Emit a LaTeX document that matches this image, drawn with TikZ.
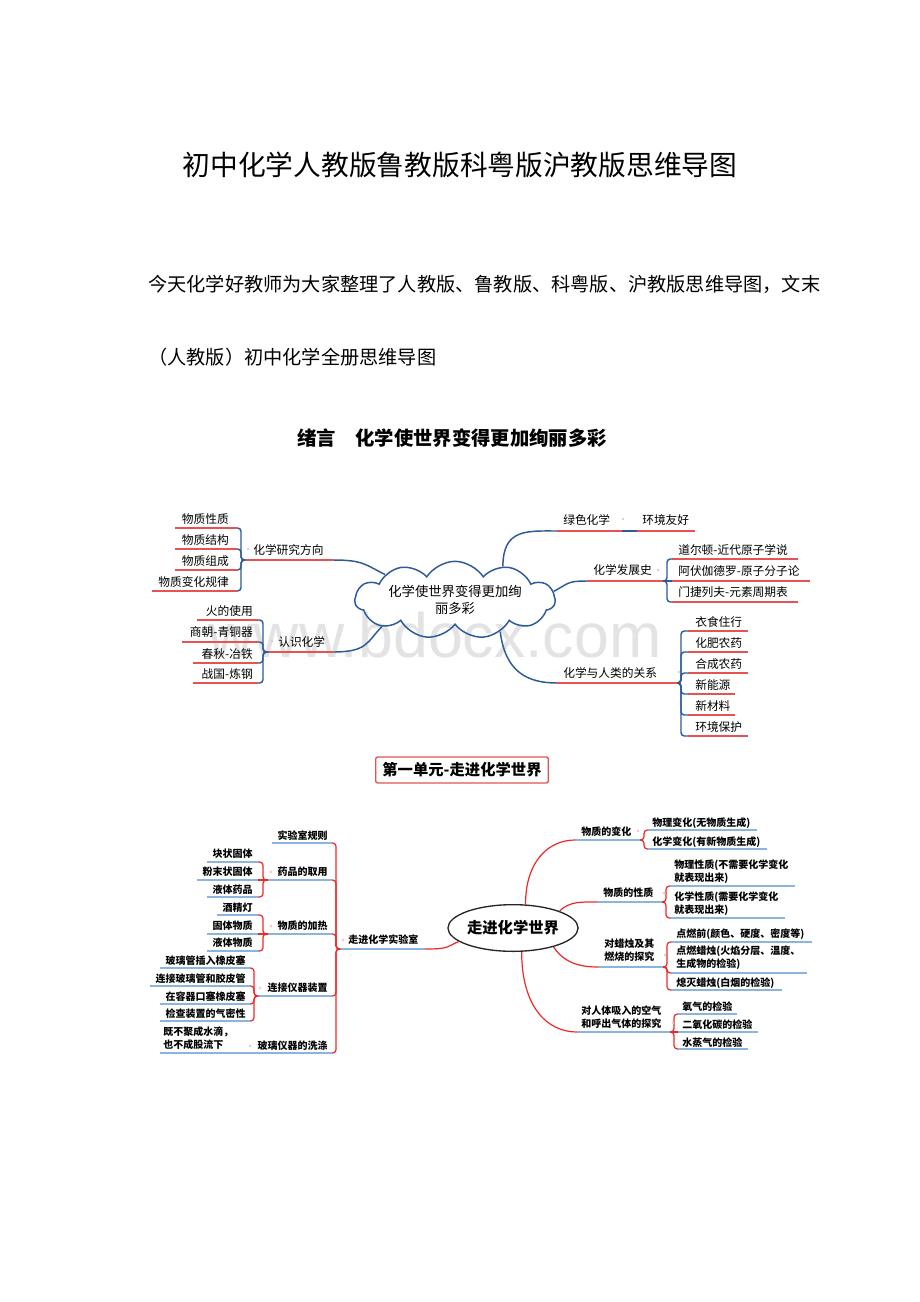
\documentclass[tikz,border=0pt]{standalone}
\usepackage{fontspec}
\setmainfont{Noto Sans CJK SC}
\newfontfamily\wmfont{Liberation Sans}
\usetikzlibrary{shapes.symbols}
\usetikzlibrary{shapes.geometric}
\definecolor{mapblue}{RGB}{46,90,152}
\definecolor{mapred}{RGB}{232,82,82}
\definecolor{linkred}{RGB}{240,40,40}
\definecolor{ulblue}{RGB}{140,180,226}
\definecolor{boxred}{RGB}{226,84,84}

\begin{document}
\begin{tikzpicture}[x=0.75pt,y=0.75pt,yscale=-1,xscale=1,
  txt/.style={inner sep=0pt,font=\fontsize{8.8}{11}\selectfont},
  sub/.style={inner sep=0pt,font=\fontsize{7.5}{9.8}\selectfont\bfseries,align=left},
  blink/.style={draw=mapblue,line width=1.1pt},
  bul/.style={draw=mapred,line width=1.1pt},
  rlink/.style={draw=linkred,line width=0.9pt},
  rul/.style={draw=ulblue,line width=1.1pt},
  bbrace/.style={blink,rounded corners=2.5pt},
  rbrace/.style={rlink,rounded corners=2.5pt},
  bdot/.style={circle,inner sep=0pt,minimum size=2.2pt,fill=gray!35},
  rdot/.style={circle,inner sep=0pt,minimum size=2.2pt,fill=red!25}
]
%set diagram to 920 x 1302
\path[fill=white] (0,0) rectangle (920,1302);
\useasboundingbox (0,0) rectangle (920,1302);

%Watermark
\draw (435,635) node[text=black!11,font=\wmfont\fontsize{47}{50}\selectfont] (wm) {www.bdocx.com};

% Text Node
\draw (460,165) node[font=\fontsize{20.8}{25}\selectfont] (title) {初中化学人教版鲁教版科粤版沪教版思维导图};
% Text Node
\draw (148,284) node[anchor=west,inner sep=0pt,font=\fontsize{14.4}{17}\selectfont] (intro) {今天化学好教师为大家整理了人教版、鲁教版、科粤版、沪教版思维导图，文末};
% Text Node
\draw (148,357) node[anchor=west,inner sep=0pt,font=\fontsize{14.4}{17}\selectfont] (intro2) {（人教版）初中化学全册思维导图};
% Text Node
\draw (452,438) node[font=\fontsize{14.5}{17}\selectfont\bfseries] (xuyan) {绪言\hspace{1em}化学使世界变得更加绚丽多彩};

%Shape: Cloud
\draw (455,600) node[cloud,draw=mapblue,line width=1.1pt,cloud puffs=11,cloud puff arc=115,cloud ignores aspect,minimum width=150pt,minimum height=58pt,inner sep=0pt,align=center,font=\fontsize{10}{13}\selectfont] (core) {化学使世界变得更加绚\\丽多彩};

%Underline ends (map 1)
\coordinate (yjl) at (245,560); \coordinate (yjr) at (333,560);
\coordinate (xz1l) at (175,528); \coordinate (xz1r) at (237,528);
\coordinate (xz2l) at (175,549); \coordinate (xz2r) at (237,549);
\coordinate (xz3l) at (175,570); \coordinate (xz3r) at (237,570);
\coordinate (xz4l) at (152,591); \coordinate (xz4r) at (237,591);
\coordinate (rsl) at (268,652); \coordinate (rsr) at (333,652);
\coordinate (rs1l) at (197,620); \coordinate (rs1r) at (258,620);
\coordinate (rs2l) at (182,642); \coordinate (rs2r) at (258,642);
\coordinate (rs3l) at (193,663); \coordinate (rs3r) at (258,663);
\coordinate (rs4l) at (193,683); \coordinate (rs4r) at (258,683);
\coordinate (lsl) at (557,531); \coordinate (lsr) at (622,531);
\coordinate (hyl) at (637,531); \coordinate (hyr) at (695,531);
\coordinate (fzl) at (587,581); \coordinate (fzr) at (663,581);
\coordinate (fz1l) at (672,559); \coordinate (fz1r) at (798,559);
\coordinate (fz2l) at (672,581); \coordinate (fz2r) at (810,581);
\coordinate (fz3l) at (672,602); \coordinate (fz3r) at (798,602);
\coordinate (rll) at (557,683); \coordinate (rlr) at (677,683);
\coordinate (rl1l) at (688,631); \coordinate (rl1r) at (748,631);
\coordinate (rl2l) at (688,652); \coordinate (rl2r) at (748,652);
\coordinate (rl3l) at (688,673); \coordinate (rl3r) at (748,673);
\coordinate (rl4l) at (688,694); \coordinate (rl4r) at (735,694);
\coordinate (rl5l) at (688,715); \coordinate (rl5r) at (735,715);
\coordinate (rl6l) at (688,736); \coordinate (rl6r) at (748,736);

% Text Node
\draw (229,519) node[txt,anchor=east] (xz1) {物质性质};
% Text Node
\draw (229,540) node[txt,anchor=east] (xz2) {物质结构};
% Text Node
\draw (229,561) node[txt,anchor=east] (xz3) {物质组成};
% Text Node
\draw (229,582) node[txt,anchor=east] (xz4) {物质变化规律};
% Text Node
\draw (253,550) node[txt,anchor=west] (yj) {化学研究方向};
% Text Node
\draw (253,611) node[txt,anchor=east] (rs1) {火的使用};
% Text Node
\draw (253,632) node[txt,anchor=east] (rs2) {商朝-青铜器};
% Text Node
\draw (253,654) node[txt,anchor=east] (rs3) {春秋-冶铁};
% Text Node
\draw (253,674) node[txt,anchor=east] (rs4) {战国-炼钢};
% Text Node
\draw (278,642) node[txt,anchor=west] (rs) {认识化学};
% Text Node
\draw (563,520) node[txt,anchor=west] (ls) {绿色化学};
% Text Node
\draw (642,520) node[txt,anchor=west] (hy) {环境友好};
% Text Node
\draw (593,570) node[txt,anchor=west] (fz) {化学发展史};
% Text Node
\draw (678,550) node[txt,anchor=west] (fz1) {道尔顿-近代原子学说};
% Text Node
\draw (678,571) node[txt,anchor=west] (fz2) {阿伏伽德罗-原子分子论};
% Text Node
\draw (678,592) node[txt,anchor=west] (fz3) {门捷列夫-元素周期表};
% Text Node
\draw (563,673) node[txt,anchor=west] (rl) {化学与人类的关系};
% Text Node
\draw (695,622) node[txt,anchor=west] (rl1) {衣食住行};
% Text Node
\draw (695,643) node[txt,anchor=west] (rl2) {化肥农药};
% Text Node
\draw (695,664) node[txt,anchor=west] (rl3) {合成农药};
% Text Node
\draw (695,685) node[txt,anchor=west] (rl4) {新能源};
% Text Node
\draw (695,706) node[txt,anchor=west] (rl5) {新材料};
% Text Node
\draw (695,727) node[txt,anchor=west] (rl6) {环境保护};

%Underlines (map 1)
\foreach \u in {yj,xz1,xz2,xz3,xz4,rs,rs1,rs2,rs3,rs4,ls,hy,fz,fz1,fz2,fz3,rl,rl1,rl2,rl3,rl4,rl5,rl6}
  \draw[bul] (\u l) -- (\u r);

%Connectors (map 1)
\draw[blink] (core.160) .. controls +(-20,-10) and +(30,0) .. (yjr);
\draw[blink] (core.200) .. controls +(-15,15) and +(35,0) .. (rsr);
\draw[blink] (core.35) .. controls +(0,-38) and +(-30,0) .. (lsl);
\draw[blink] (core.5) .. controls +(15,-8) and +(-20,0) .. (fzl);
\draw[blink] (core.325) .. controls +(5,40) and +(-30,0) .. (rll);
\draw[blink] (lsr) -- (hyl);
\foreach \c in {xz1,xz2,xz3,xz4}
  \draw[bbrace] (yjl) -- ++(-4,0) |- (\c r);
\foreach \c in {rs1,rs2,rs3,rs4}
  \draw[bbrace] (rsl) -- ++(-5,0) |- (\c r);
\foreach \c in {fz1,fz3}
  \draw[bbrace] (fzr) -- ++(4,0) |- (\c l);
\draw[blink] (fzr) -- (fz2l);
\foreach \c in {rl1,rl2,rl3,rl4,rl5,rl6}
  \draw[bbrace] (rlr) -- ++(4,0) |- (\c l);

%Markers (map 1)
\draw (248,549) node[bdot] (d1) {};
\draw (272,641) node[bdot] (d2) {};
\draw (623,519) node[bdot] (d3) {};
\draw (658,570) node[bdot] (d4) {};
\draw (679,672) node[bdot] (d5) {};

%Shape: Title box
\draw (462,770) node[draw=boxred,line width=1pt,rounded corners=1.5pt,inner xsep=5pt,minimum height=19.5pt,font=\fontsize{11.5}{13}\selectfont\bfseries] (dy) {第一单元-走进化学世界};

%Shape: Ellipse
\draw (513,928) node[ellipse,draw=black!85,line width=1pt,minimum width=95pt,minimum height=35pt,inner sep=0pt,font=\fontsize{11.5}{14}\selectfont\bfseries] (sj) {走进化学世界};

%Underline ends (map 2)
\coordinate (syl) at (340,949); \coordinate (syr) at (425,949);
\coordinate (gzl) at (272,843); \coordinate (gzr) at (332,843);
\coordinate (ypl) at (268,880); \coordinate (ypr) at (332,880);
\coordinate (yp1l) at (207,862); \coordinate (yp1r) at (258,862);
\coordinate (yp2l) at (197,880); \coordinate (yp2r) at (258,880);
\coordinate (yp3l) at (207,897); \coordinate (yp3r) at (258,897);
\coordinate (jrl) at (268,934); \coordinate (jrr) at (332,934);
\coordinate (jr1l) at (217,915); \coordinate (jr1r) at (258,915);
\coordinate (jr2l) at (207,934); \coordinate (jr2r) at (258,934);
\coordinate (jr3l) at (207,951); \coordinate (jr3r) at (258,951);
\coordinate (ljl) at (258,996); \coordinate (ljr) at (332,996);
\coordinate (lj1l) at (160,968); \coordinate (lj1r) at (250,968);
\coordinate (lj2l) at (150,986); \coordinate (lj2r) at (250,986);
\coordinate (lj3l) at (160,1004); \coordinate (lj3r) at (250,1004);
\coordinate (lj4l) at (160,1021); \coordinate (lj4r) at (250,1021);
\coordinate (xdl) at (240,1053); \coordinate (xdr) at (332,1053);
\coordinate (xd1l) at (160,1053); \coordinate (xd1r) at (240,1053);
\coordinate (bhl) at (575,840); \coordinate (bhr) at (640,840);
\coordinate (bh1l) at (648,830); \coordinate (bh1r) at (757,830);
\coordinate (bh2l) at (648,849); \coordinate (bh2r) at (767,849);
\coordinate (xzl) at (597,902); \coordinate (xzr) at (662,902);
\coordinate (xzp1l) at (670,886); \coordinate (xzp1r) at (795,886);
\coordinate (xzp2l) at (670,918); \coordinate (xzp2r) at (785,918);
\coordinate (lzl) at (598,967); \coordinate (lzr) at (663,967);
\coordinate (lz1l) at (671,942); \coordinate (lz1r) at (812,942);
\coordinate (lz2l) at (671,973); \coordinate (lz2r) at (807,973);
\coordinate (lz3l) at (671,990); \coordinate (lz3r) at (782,990);
\coordinate (rtl) at (577,1032); \coordinate (rtr) at (670,1032);
\coordinate (rt1l) at (678,1014); \coordinate (rt1r) at (737,1014);
\coordinate (rt2l) at (678,1032); \coordinate (rt2r) at (758,1032);
\coordinate (rt3l) at (678,1049); \coordinate (rt3r) at (748,1049);

% Text Node
\draw (348,940) node[sub,anchor=west] (sy) {走进化学实验室};
% Text Node
\draw (328,836) node[sub,anchor=east] (gz) {实验室规则};
% Text Node
\draw (328,872) node[sub,anchor=east] (yp) {药品的取用};
% Text Node
\draw (253,854) node[sub,anchor=east] (yp1) {块状固体};
% Text Node
\draw (253,872) node[sub,anchor=east] (yp2) {粉末状固体};
% Text Node
\draw (253,890) node[sub,anchor=east] (yp3) {液体药品};
% Text Node
\draw (328,926) node[sub,anchor=east] (jr) {物质的加热};
% Text Node
\draw (253,908) node[sub,anchor=east] (jr1) {酒精灯};
% Text Node
\draw (253,926) node[sub,anchor=east] (jr2) {固体物质};
% Text Node
\draw (253,943) node[sub,anchor=east] (jr3) {液体物质};
% Text Node
\draw (328,988) node[sub,anchor=east] (lj) {连接仪器装置};
% Text Node
\draw (246,961) node[sub,anchor=east] (lj1) {玻璃管插入橡皮塞};
% Text Node
\draw (246,979) node[sub,anchor=east] (lj2) {连接玻璃管和胶皮管};
% Text Node
\draw (246,997) node[sub,anchor=east] (lj3) {在容器口塞橡皮塞};
% Text Node
\draw (246,1014) node[sub,anchor=east] (lj4) {检查装置的气密性};
% Text Node
\draw (328,1046) node[sub,anchor=east] (xd) {玻璃仪器的洗涤};
% Text Node
\draw (163,1038) node[sub,anchor=west] (xd1) {既不聚成水滴，\\也不成股流下};
% Text Node
\draw (581,832) node[sub,anchor=west] (bh) {物质的变化};
% Text Node
\draw (652,823) node[sub,anchor=west] (bh1) {物理变化(无物质生成)};
% Text Node
\draw (652,842) node[sub,anchor=west] (bh2) {化学变化(有新物质生成)};
% Text Node
\draw (603,893) node[sub,anchor=west] (xz) {物质的性质};
% Text Node
\draw (674,872) node[sub,anchor=west] (xzp1) {物理性质(不需要化学变化\\就表现出来)};
% Text Node
\draw (674,904) node[sub,anchor=west] (xzp2) {化学性质(需要化学变化\\就表现出来)};
% Text Node
\draw (604,950) node[sub,anchor=west] (lz) {对蜡烛及其\\燃烧的探究};
% Text Node
\draw (676,934) node[sub,anchor=west] (lz1) {点燃前(颜色、硬度、密度等)};
% Text Node
\draw (676,958) node[sub,anchor=west] (lz2) {点燃蜡烛(火焰分层、温度、\\生成物的检验)};
% Text Node
\draw (676,983) node[sub,anchor=west] (lz3) {熄灭蜡烛(白烟的检验)};
% Text Node
\draw (581,1017) node[sub,anchor=west] (rt) {对人体吸入的空气\\和呼出气体的探究};
% Text Node
\draw (682,1007) node[sub,anchor=west] (rt1) {氧气的检验};
% Text Node
\draw (682,1025) node[sub,anchor=west] (rt2) {二氧化碳的检验};
% Text Node
\draw (682,1043) node[sub,anchor=west] (rt3) {水蒸气的检验};

%Underlines (map 2)
\foreach \u in {sy,gz,yp,yp1,yp2,yp3,jr,jr1,jr2,jr3,lj,lj1,lj2,lj3,lj4,xd,xd1,bh,bh1,bh2,xz,xzp1,xzp2,lz,lz1,lz2,lz3,rt,rt1,rt2,rt3}
  \draw[rul] (\u l) -- (\u r);

%Connectors (map 2)
\draw[rlink] (sj.194) .. controls +(-12,5) and +(25,0) .. (syr);
\draw[rlink] (sj.62) .. controls +(0,-45) and +(-25,0) .. (bhl);
\draw[rlink] (sj.20) .. controls +(10,-10) and +(-15,0) .. (xzl);
\draw[rlink] (sj.-25) .. controls +(10,15) and +(-20,0) .. (lzl);
\draw[rlink] (sj.-70) .. controls +(0,55) and +(-30,0) .. (rtl);
\foreach \c in {gz,yp,jr,lj,xd}
  \draw[rbrace] (syl) -- ++(-4,0) |- (\c r);
\foreach \c in {yp1,yp3}
  \draw[rbrace] (ypl) -- ++(-5,0) |- (\c r);
\draw[rlink] (ypl) -- (yp2r);
\foreach \c in {jr1,jr3}
  \draw[rbrace] (jrl) -- ++(-5,0) |- (\c r);
\draw[rlink] (jrl) -- (jr2r);
\foreach \c in {lj1,lj2,lj3,lj4}
  \draw[rbrace] (ljl) -- ++(-4,0) |- (\c r);
\foreach \c in {bh1,bh2}
  \draw[rbrace] (bhr) -- ++(4,0) |- (\c l);
\foreach \c in {xzp1,xzp2}
  \draw[rbrace] (xzr) -- ++(4,0) |- (\c l);
\foreach \c in {lz1,lz2,lz3}
  \draw[rbrace] (lzr) -- ++(4,0) |- (\c l);
\foreach \c in {rt1,rt3}
  \draw[rbrace] (rtr) -- ++(4,0) |- (\c l);
\draw[rlink] (rtr) -- (rt2l);

%Markers (map 2)
\draw (343,940) node[rdot] (e1) {};
\draw (271,872) node[rdot] (e2) {};
\draw (271,926) node[rdot] (e3) {};
\draw (260,988) node[rdot] (e4) {};
\draw (250,1046) node[rdot] (e5) {};
\draw (638,831) node[rdot] (e6) {};
\draw (664,893) node[rdot] (e7) {};
\draw (665,955) node[rdot] (e8) {};
\draw (673,1023) node[rdot] (e9) {};

\end{tikzpicture}
\end{document}
